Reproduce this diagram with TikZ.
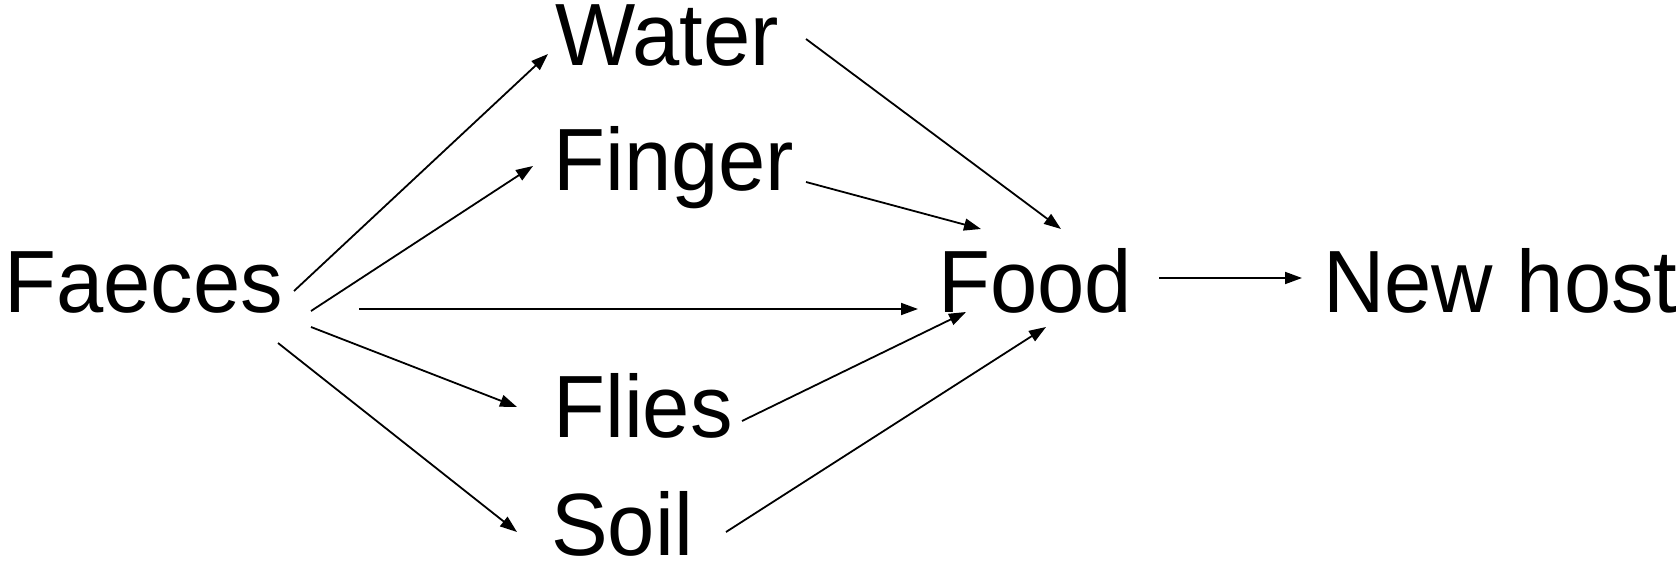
\documentclass[tikz,border=0pt]{standalone}
\usepackage{fontspec}
\setmainfont{Liberation Sans}
\usetikzlibrary{arrows.meta}
\begin{document}
\begin{tikzpicture}[x=1pt,y=1pt,
  lbl/.style={anchor=base west,inner sep=0pt,font=\fontsize{85}{90}\selectfont},
  arr/.style={line width=1.8pt,-{Triangle[length=17pt,width=12pt]}}]
\useasboundingbox (0,0) rectangle (1679,563);
\node[lbl] (faeces) at (4,250) {\scalebox{1}[1.04]{Faeces}};
\node[lbl] (water) at (555,497) {\scalebox{1}[1.04]{Water}};
\node[lbl] (finger) at (553,372) {\scalebox{1}[1.04]{Finger}};
\node[lbl] (flies) at (553,126) {\scalebox{1}[1.04]{Flies}};
\node[lbl] (soil) at (551,8) {\scalebox{1}[1.04]{Soil}};
\node[lbl] (food) at (938,250) {\scalebox{1}[1.04]{Food}};
\node[lbl] (newhost) at (1323,250) {\scalebox{1}[1.04]{New host}};
\draw[arr] ([shift={(290,22)}]faeces.base west) -- ([shift={(-7,12)}]water.base west);
\draw[arr] ([shift={(307,2)}]faeces.base west) -- ([shift={(-20,25)}]finger.base west);
\draw[arr] ([shift={(355,4)}]faeces.base west) -- ([shift={(-20,4)}]food.base west);
\draw[arr] ([shift={(307,-14)}]faeces.base west) -- ([shift={(-36,30)}]flies.base west);
\draw[arr] ([shift={(274,-30)}]faeces.base west) -- ([shift={(-34,23)}]soil.base west);
\draw[arr] ([shift={(251,27)}]water.base west) -- ([shift={(123,84)}]food.base west);
\draw[arr] ([shift={(253,9)}]finger.base west) -- ([shift={(43,84)}]food.base west);
\draw[arr] ([shift={(189,16)}]flies.base west) -- ([shift={(28,1)}]food.base west);
\draw[arr] ([shift={(175,23)}]soil.base west) -- ([shift={(108,-14)}]food.base west);
\draw[arr] ([shift={(221,35)}]food.base west) -- ([shift={(-21,35)}]newhost.base west);
\end{tikzpicture}
\end{document}
